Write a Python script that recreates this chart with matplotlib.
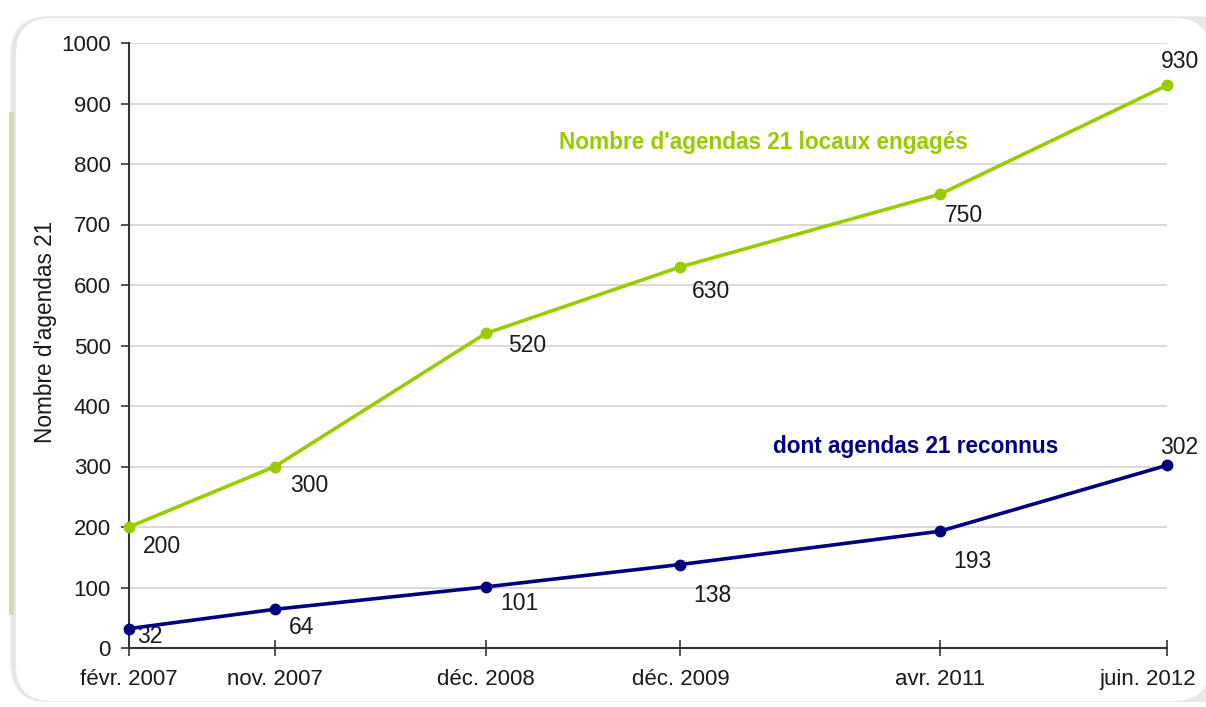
import matplotlib
matplotlib.use("Agg")
import matplotlib.pyplot as plt
from matplotlib.patches import FancyBboxPatch, Rectangle
from matplotlib.transforms import IdentityTransform, ScaledTranslation

# Data
dates = ["févr. 2007", "nov. 2007", "déc. 2008", "déc. 2009", "avr. 2011", "juin. 2012"]
months = [0, 9, 22, 34, 50, 64]          # months elapsed since févr. 2007
engages = [200, 300, 520, 630, 750, 930]
reconnus = [32, 64, 101, 138, 193, 302]

# label offsets (points) for the value annotations
off_eng = [(24, -14), (25, -14), (30, -9), (22, -18), (17, -15), (9, 17)]
off_rec = [(15, -6), (19, -13), (24, -12), (23, -22), (23, -22), (9, 13)]

plt.rcParams['font.family'] = ['Liberation Sans', 'DejaVu Sans']

W, H, DPI = 1206, 707, 100
fig = plt.figure(figsize=(W / DPI, H / DPI), dpi=DPI)
fig.patch.set_facecolor("white")

# panel background: soft shadow, left accent strip, white rounded card
ident = IdentityTransform()
for dx, col in [(10, "#efefef"), (7, "#e4e4e4"), (4, "#e8e8e8")]:
    fig.patches.append(FancyBboxPatch((16 - dx * 0.6, 5), W + 40, 682 + dx * 0.4,
                                      boxstyle="round,pad=0,rounding_size=38",
                                      transform=ident, facecolor=col, edgecolor="none", zorder=0))
fig.patches.append(Rectangle((9, H - 615), 5, 503, transform=ident,
                             facecolor="#d3dbb4", edgecolor="none", zorder=0))
fig.patches.append(FancyBboxPatch((16, 6), W - 12, 683,
                                  boxstyle="round,pad=0,rounding_size=36",
                                  transform=ident, facecolor="white", edgecolor="none", zorder=1))

ax = fig.add_axes([129 / W, 1 - 648 / H, (1167 - 129) / W, (648 - 43) / H])
ax.set_facecolor("none")
ax.set_zorder(2)

green = "#99cc00"
navy = "#000080"

ax.plot(months, engages, color=green, lw=2.6, marker="o", ms=7.5, clip_on=False, zorder=4)
ax.plot(months, reconnus, color=navy, lw=2.6, marker="o", ms=7.5, clip_on=False, zorder=4)

for x, y, o in zip(months, engages, off_eng):
    ax.annotate(str(y), (x, y), xytext=o, textcoords="offset points",
                ha="center", va="center", fontsize=16.5, color="#1a1a1a")
for x, y, o in zip(months, reconnus, off_rec):
    ax.annotate(str(y), (x, y), xytext=o, textcoords="offset points",
                ha="center", va="center", fontsize=16.5, color="#1a1a1a")

ax.text(39.1, 835, "Nombre d'agendas 21 locaux engagés", color=green,
        fontsize=16.3, fontweight="bold", ha="center", va="center")
ax.text(48.5, 333, "dont agendas 21 reconnus", color=navy,
        fontsize=16.3, fontweight="bold", ha="center", va="center")

ax.set_xlim(0, 64)
ax.set_ylim(0, 1000)
ax.set_yticks(range(0, 1001, 100))
ax.set_xticks(months)
ax.set_xticklabels(dates)
ax.tick_params(axis="y", direction="out", length=6, width=1.2, color="#333333",
               labelsize=16, labelcolor="#1a1a1a", pad=7)
ax.tick_params(axis="x", direction="inout", length=12, width=1.2, color="#333333",
               labelsize=16, labelcolor="#1a1a1a", pad=9)
# last date label sits a little left of its tick
last = ax.get_xticklabels()[-1]
last.set_transform(last.get_transform() + ScaledTranslation(-19 / DPI, 0, fig.dpi_scale_trans))

ax.grid(axis="y", color="#d9d9d9", lw=1.4)
ax.set_axisbelow(True)
for s in ("top", "right"):
    ax.spines[s].set_visible(False)
for s in ("left", "bottom"):
    ax.spines[s].set_color("#333333")
    ax.spines[s].set_linewidth(1.5)

ax.set_ylabel("Nombre d'agendas 21", fontsize=16.3, color="#1a1a1a")
ax.yaxis.set_label_coords(-0.080, 0.522)
ax.yaxis.label.set_va("center")

fig.savefig("out.png", dpi=DPI, facecolor="white")
